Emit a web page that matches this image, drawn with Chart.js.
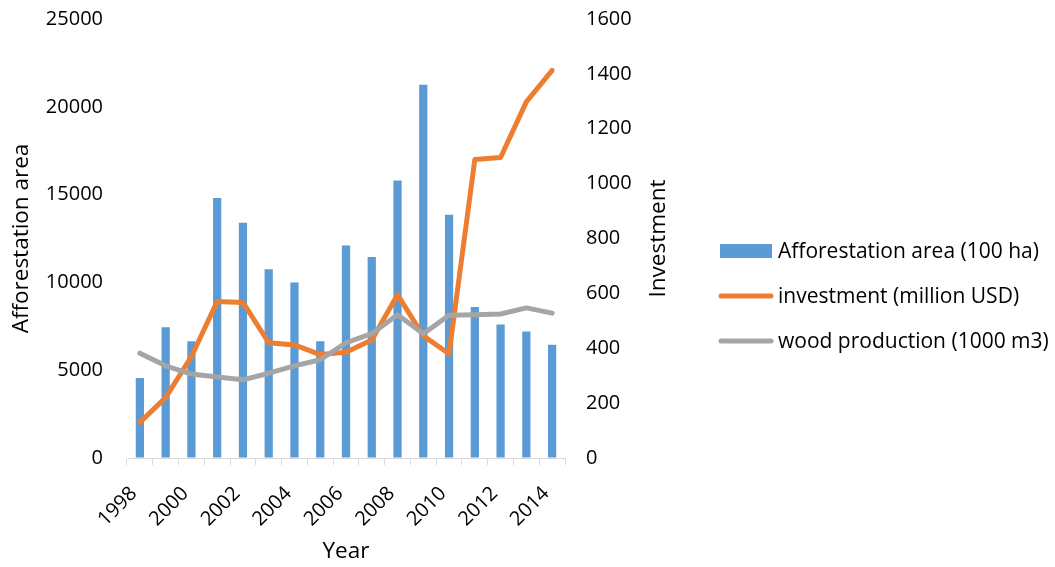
<!DOCTYPE html>
<html>
<head>
<meta charset="utf-8">
<script src="https://cdn.jsdelivr.net/npm/chart.js@4"></script>
<style>
  html, body { margin: 0; padding: 0; background: #fff; }
  #wrap { width: 1055px; height: 567px; }
</style>
</head>
<body>
<div id="wrap"><canvas id="c" width="1055" height="567"></canvas></div>
<script>
const years = ['1998','1999','2000','2001','2002','2003','2004','2005','2006','2007','2008','2009','2010','2011','2012','2013','2014'];
const afforestationArea = [4550, 7450, 6650, 14800, 13400, 10750, 10000, 6650, 12100, 11450, 15800, 21250, 13850, 8600, 7600, 7200, 6450];
const investment = [130, 220, 370, 570, 567, 420, 412, 377, 385, 430, 595, 445, 380, 1088, 1095, 1298, 1413];
const woodProduction = [382, 336, 306, 295, 285, 309, 336, 358, 420, 453, 522, 453, 520, 522, 525, 547, 528];
const leftTicks = [0, 5000, 10000, 15000, 20000, 25000];
const rightTicks = [0, 200, 400, 600, 800, 1000, 1200, 1400, 1600];

const FONT = "'Open Sans', 'DejaVu Sans', sans-serif";
const TEXT = '#000000';
const TITLE_SIZE = 22.5;

// Legend drawn to the right of the secondary axis, one row per dataset
const sideLegend = {
  id: 'sideLegend',
  afterDraw(chart) {
    const ctx = chart.ctx;
    const x0 = 720, x1 = 772, textX = 778;
    const rows = [251, 296, 341];
    ctx.save();
    ctx.font = '21px ' + FONT;
    ctx.textBaseline = 'middle';
    ctx.textAlign = 'left';
    chart.data.datasets.forEach((ds, i) => {
      const y = rows[i];
      if (ds.type === 'line') {
        ctx.strokeStyle = ds.borderColor;
        ctx.lineWidth = 5;
        ctx.lineCap = 'round';
        ctx.beginPath();
        ctx.moveTo(x0 + 1, y);
        ctx.lineTo(x1 - 1, y);
        ctx.stroke();
      } else {
        ctx.fillStyle = ds.backgroundColor;
        ctx.fillRect(x0, y - 7, x1 - x0, 14);
      }
      ctx.fillStyle = TEXT;
      ctx.fillText(ds.label, textX, y + 1);
    });
    ctx.restore();
  }
};

// Secondary axis title, reading bottom to top
const rightTitle = {
  id: 'rightTitle',
  afterDraw(chart) {
    const ctx = chart.ctx;
    const a = chart.chartArea;
    ctx.save();
    ctx.translate(659, (a.top + a.bottom) / 2);
    ctx.rotate(-Math.PI / 2);
    ctx.font = TITLE_SIZE + 'px ' + FONT;
    ctx.fillStyle = TEXT;
    ctx.textAlign = 'center';
    ctx.textBaseline = 'middle';
    ctx.fillText('Investment', 0, 0);
    ctx.restore();
  }
};

const plainNumber = (v) => String(v);

// invisible tick marks keep the value labels clear of the plot area
const hiddenTickGrid = (len) => ({
  display: true,
  drawOnChartArea: false,
  drawTicks: true,
  tickLength: len,
  color: 'rgba(0,0,0,0)'
});

new Chart(document.getElementById('c'), {
  type: 'bar',
  data: {
    labels: years,
    datasets: [
      {
        type: 'bar',
        label: 'Afforestation area (100 ha)',
        data: afforestationArea,
        backgroundColor: '#5B9BD5',
        yAxisID: 'y',
        barPercentage: 0.32,
        categoryPercentage: 1.0,
        order: 3
      },
      {
        type: 'line',
        label: 'investment (million USD)',
        data: investment,
        borderColor: '#ED7D31',
        backgroundColor: '#ED7D31',
        borderWidth: 5,
        borderCapStyle: 'round',
        borderJoinStyle: 'round',
        pointRadius: 0,
        tension: 0,
        yAxisID: 'y1',
        order: 2
      },
      {
        type: 'line',
        label: 'wood production (1000 m3)',
        data: woodProduction,
        borderColor: '#A5A5A5',
        backgroundColor: '#A5A5A5',
        borderWidth: 5,
        borderCapStyle: 'round',
        borderJoinStyle: 'round',
        pointRadius: 0,
        tension: 0,
        yAxisID: 'y1',
        order: 1
      }
    ]
  },
  options: {
    responsive: false,
    animation: false,
    layout: { padding: { top: 19, left: 0, right: 350, bottom: 0 } },
    plugins: {
      legend: { display: false },
      tooltip: { enabled: false }
    },
    scales: {
      x: {
        offset: true,
        grid: {
          offset: true,
          drawOnChartArea: false,
          drawTicks: true,
          tickLength: 7,
          color: '#D9D9D9'
        },
        border: { display: true, color: '#D9D9D9', width: 1 },
        ticks: {
          autoSkip: false,
          minRotation: 45,
          maxRotation: 45,
          padding: 17,
          labelOffset: -6,
          color: TEXT,
          font: { family: FONT, size: 20 },
          callback: function (v, i) { return i % 2 === 0 ? years[i] : ''; }
        },
        title: {
          display: true,
          text: 'Year',
          color: TEXT,
          font: { family: FONT, size: TITLE_SIZE },
          padding: { top: 0, bottom: 2 }
        },
        afterFit: (s) => { s.height = 109; }
      },
      y: {
        position: 'left',
        min: 0,
        max: 25000,
        afterBuildTicks: (s) => { s.ticks = leftTicks.map(v => ({ value: v })); },
        grid: hiddenTickGrid(24),
        border: { display: false },
        ticks: {
          padding: 0,
          color: TEXT,
          font: { family: FONT, size: 20 },
          callback: plainNumber
        },
        title: {
          display: true,
          text: 'Afforestation area',
          color: TEXT,
          font: { family: FONT, size: TITLE_SIZE },
          padding: { top: 8, bottom: 0 }
        },
        afterFit: (s) => { s.width = 127; }
      },
      y1: {
        position: 'right',
        min: 0,
        max: 1600,
        afterBuildTicks: (s) => { s.ticks = rightTicks.map(v => ({ value: v })); },
        grid: hiddenTickGrid(21),
        border: { display: false },
        ticks: {
          padding: 0,
          color: TEXT,
          font: { family: FONT, size: 20 },
          callback: plainNumber
        },
        afterFit: (s) => { s.width = 140; }
      }
    }
  },
  plugins: [sideLegend, rightTitle]
});
</script>
</body>
</html>
